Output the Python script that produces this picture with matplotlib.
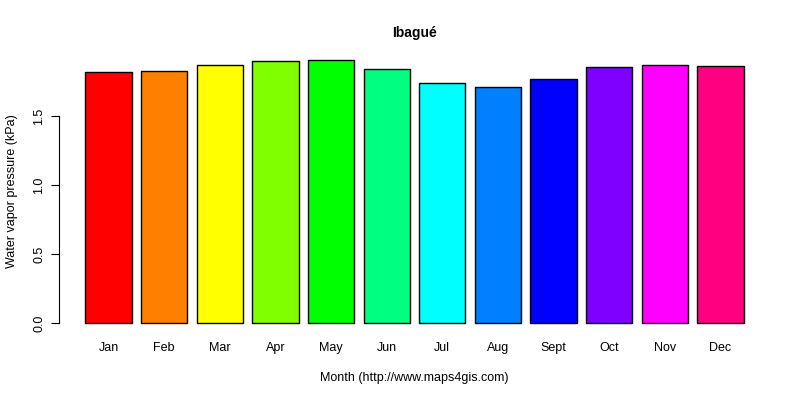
import matplotlib
matplotlib.use("Agg")
import matplotlib.pyplot as plt

# Data.
months = ["Jan", "Feb", "Mar", "Apr", "May", "Jun",
          "Jul", "Aug", "Sept", "Oct", "Nov", "Dec"]
vapor_kpa = [1.814, 1.821, 1.871, 1.893, 1.907, 1.842,
             1.741, 1.712, 1.763, 1.850, 1.871, 1.857]
bar_colors = ["#FF0000", "#FF8000", "#FFFF00", "#80FF00", "#00FF00", "#00FF80",
              "#00FFFF", "#0080FF", "#0000FF", "#8000FF", "#FF00FF", "#FF0080"]
y_ticks = [0.0, 0.5, 1.0, 1.5]

plt.rcParams["font.family"] = ["Liberation Sans", "DejaVu Sans"]

fig = plt.figure(figsize=(8, 4), dpi=100)
ax = fig.add_axes([59 / 800, 66 / 400, 711 / 800, 285 / 400])

# R style barplot: width 1, space 0.2
x_pos = [0.7 + 1.2 * i for i in range(len(months))]
ax.bar(x_pos, vapor_kpa, width=1.0, color=bar_colors,
       edgecolor="black", linewidth=1.0)

top = max(vapor_kpa)
ax.set_xlim(0.2 - 0.04 * 14.2, 14.4 + 0.04 * 14.2)
ax.set_ylim(-0.04 * top, top * 1.04)

for side in ["top", "right", "bottom"]:
    ax.spines[side].set_visible(False)
ax.spines["left"].set_bounds(0, 1.5)

ax.set_yticks(y_ticks)
ax.set_yticklabels([f"{v:.1f}" for v in y_ticks], rotation=90, va="center", fontsize=9)
ax.tick_params(axis="y", length=6, pad=4)

ax.set_xticks(x_pos)
ax.set_xticklabels(months, fontsize=9)
ax.tick_params(axis="x", length=0, pad=6)

ax.set_title("Ibagué", fontsize=10, fontweight="bold", pad=9)
ax.set_xlabel("Month (http://www.maps4gis.com)", fontsize=9, labelpad=13)
ax.set_ylabel("Water vapor pressure (kPa)", fontsize=9, labelpad=11)

fig.savefig("out.png", dpi=100)
